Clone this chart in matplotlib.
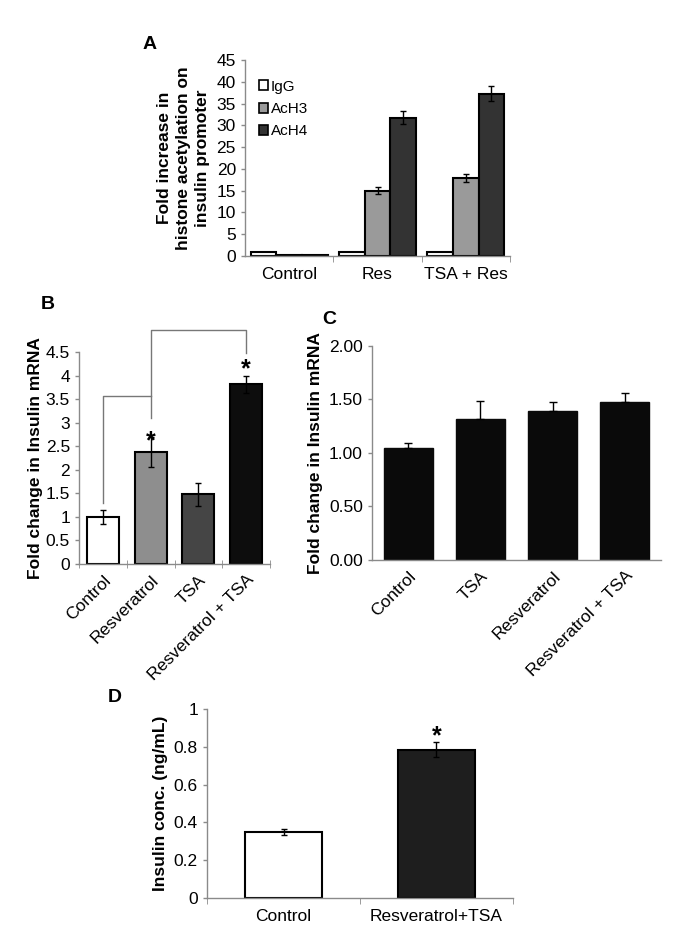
import matplotlib
matplotlib.use("Agg")
import matplotlib.pyplot as plt
from matplotlib.patches import Patch
import numpy as np

plt.rcParams['font.family'] = ['Liberation Sans', 'DejaVu Sans']

# panel A: histone acetylation (ChIP)
a_groups = ["Control", "Res", "TSA + Res"]
a_series = ["IgG", "AcH3", "AcH4"]
a_values = [[1.0, 1.0, 1.0],
            [0.2, 15.0, 18.0],
            [0.2, 31.8, 37.3]]
a_errors = [[0.0, 0.0, 0.0],
            [0.0, 0.8, 0.9],
            [0.0, 1.5, 1.8]]
a_colors = ["white", "#9a9a9a", "#333333"]

# panel B: insulin mRNA
b_labels = ["Control", "Resveratrol", "TSA", "Resveratrol + TSA"]
b_values = [1.0, 2.37, 1.48, 3.82]
b_errors = [0.15, 0.32, 0.25, 0.18]
b_colors = ["white", "#8e8e8e", "#454545", "#0d0d0d"]

# panel C: insulin mRNA
c_labels = ["Control", "TSA", "Resveratrol", "Resveratrol + TSA"]
c_values = [1.05, 1.32, 1.39, 1.48]
c_errors = [0.04, 0.17, 0.09, 0.08]

# panel D: insulin secretion
d_labels = ["Control", "Resveratrol+TSA"]
d_values = [0.35, 0.785]
d_errors = [0.015, 0.04]
d_colors = ["white", "#1e1e1e"]

AXC = "#8a8a8a"
TICK = 12.5
LAB = 12.5


def style(ax):
    for s in ["top", "right"]:
        ax.spines[s].set_visible(False)
    for s in ["left", "bottom"]:
        ax.spines[s].set_color(AXC)
        ax.spines[s].set_linewidth(1.0)
    ax.tick_params(axis="both", colors=AXC, labelcolor="black", labelsize=TICK,
                   length=3, width=1.0)


fig = plt.figure(figsize=(6.85, 9.31), dpi=100)

# ---- A ----
axA = fig.add_axes([0.3577, 0.7250, 0.3869, 0.2105])
style(axA)
x = np.arange(len(a_groups))
w = 0.29
for i, name in enumerate(a_series):
    yerr = [e if e > 0 else np.nan for e in a_errors[i]]
    axA.bar(x + (i - 1) * w, a_values[i], w, color=a_colors[i], edgecolor="black",
            linewidth=1.5, label=name)
    axA.errorbar(x + (i - 1) * w, a_values[i], yerr=yerr, fmt="none",
                 ecolor="black", elinewidth=1, capsize=2.5)
axA.set_xlim(-0.5, 2.5)
axA.set_ylim(0, 45)
axA.set_yticks(range(0, 46, 5))
axA.set_xticks(x)
axA.set_xticklabels(a_groups)
axA.set_xticks([0.5, 1.5, 2.5], minor=True)
axA.tick_params(axis="x", which="major", length=0, pad=8)
axA.tick_params(axis="x", which="minor", length=4, colors=AXC)
axA.set_ylabel("Fold increase in\nhistone acetylation on\ninsulin promoter",
               fontsize=LAB, fontweight="bold", linespacing=1.3, labelpad=5)
axA.legend(handles=[Patch(facecolor=c, edgecolor="black", linewidth=1.2, label=n)
                    for c, n in zip(a_colors, a_series)],
           loc="upper left", bbox_to_anchor=(0.0, 0.97), frameon=False,
           fontsize=11, handlelength=0.6, handleheight=0.6, handletextpad=0.2,
           labelspacing=0.55)
fig.text(0.219, 0.952, "A", fontsize=14, fontweight="bold", ha="center", va="center")

# ---- B ----
axB = fig.add_axes([0.1153, 0.3942, 0.2790, 0.2277])
style(axB)
xb = np.arange(len(b_labels))
axB.bar(xb, b_values, 0.67, color=b_colors, edgecolor="black", linewidth=1.5)
axB.errorbar(xb, b_values, yerr=b_errors, fmt="none", ecolor="black",
             elinewidth=1, capsize=2.5)
axB.set_xlim(-0.5, 3.5)
axB.set_ylim(0, 4.5)
axB.set_yticks(np.arange(0, 4.6, 0.5))
axB.set_yticklabels(["0", "0.5", "1", "1.5", "2", "2.5", "3", "3.5", "4", "4.5"])
axB.set_xticks(xb)
axB.set_xticklabels(b_labels, rotation=45, ha="right", rotation_mode="anchor")
axB.set_xticks([-0.5, 0.5, 1.5, 2.5, 3.5], minor=True)
axB.tick_params(axis="x", which="major", length=0, pad=6)
axB.tick_params(axis="x", which="minor", length=6, direction="inout", colors=AXC)
axB.set_ylabel("Fold change in Insulin mRNA", fontsize=LAB, fontweight="bold",
               labelpad=2)
lc = "#777777"
axB.plot([0, 0, 1], [1.29, 3.57, 3.57], color=lc, lw=1, clip_on=False)
axB.plot([1, 1, 3, 3], [3.1, 4.97, 4.97, 4.48], color=lc, lw=1, clip_on=False)
for xi, yi in [(1, 2.46), (3, 3.99)]:
    axB.text(xi, yi, "*", fontsize=18, fontweight="bold", ha="center",
             va="baseline")
fig.text(0.069, 0.673, "B", fontsize=14, fontweight="bold", ha="center", va="center")

# ---- C ----
axC = fig.add_axes([0.543, 0.3985, 0.422, 0.2299])
style(axC)
xc = np.arange(len(c_labels))
axC.bar(xc, c_values, 0.68, color="#0a0a0a", edgecolor="#0a0a0a")
axC.errorbar(xc, c_values, yerr=[[0] * 4, c_errors], fmt="none", ecolor="black",
             elinewidth=1, capsize=3)
axC.set_xlim(-0.5, 3.5)
axC.set_ylim(0, 2.0)
axC.set_yticks(np.arange(0, 2.01, 0.5))
axC.set_yticklabels(["%.2f" % v for v in np.arange(0, 2.01, 0.5)])
axC.set_xticks(xc)
axC.set_xticklabels(c_labels, rotation=45, ha="right", rotation_mode="anchor")
axC.tick_params(axis="x", length=0, pad=6)
axC.set_ylabel("Fold change in Insulin mRNA", fontsize=LAB, fontweight="bold",
               labelpad=4)
fig.text(0.480, 0.657, "C", fontsize=14, fontweight="bold", ha="center", va="center")

# ---- D ----
axD = fig.add_axes([0.3022, 0.0354, 0.4467, 0.2030])
style(axD)
xd = np.arange(len(d_labels))
axD.bar(xd, d_values, 0.5, color=d_colors, edgecolor="black", linewidth=1.5)
axD.errorbar(xd, d_values, yerr=d_errors, fmt="none", ecolor="black",
             elinewidth=1, capsize=2.5)
axD.set_xlim(-0.5, 1.5)
axD.set_ylim(0, 1.0)
axD.set_yticks(np.arange(0, 1.01, 0.2))
axD.set_yticklabels(["0", "0.2", "0.4", "0.6", "0.8", "1"])
axD.set_xticks(xd)
axD.set_xticklabels(d_labels)
axD.set_xticks([-0.5, 0.5, 1.5], minor=True)
axD.tick_params(axis="x", which="major", length=0, pad=8)
axD.tick_params(axis="x", which="minor", length=4, colors=AXC)
axD.set_ylabel("Insulin conc. (ng/mL)", fontsize=LAB, fontweight="bold", labelpad=4)
axD.text(1, 0.82, "*", fontsize=18, fontweight="bold", ha="center", va="baseline")
fig.text(0.168, 0.251, "D", fontsize=14, fontweight="bold", ha="center", va="center")

fig.savefig("out.png", dpi=100)
